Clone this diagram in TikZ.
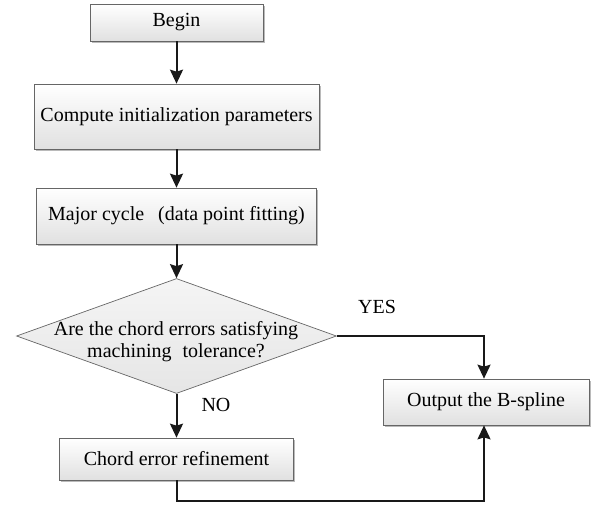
\documentclass[tikz,border=0pt]{standalone}
\usepackage{fontspec}
\setmainfont{Liberation Serif}
\usetikzlibrary{shapes.geometric,arrows.meta,shadows}

\tikzset{
  stepbox/.style={rectangle, draw=black!60, line width=0.7pt,
    top color=white, bottom color=black!12, inner sep=0pt,
    drop shadow={shadow xshift=1.6pt, shadow yshift=-1.6pt, fill=black!45, opacity=0.6}},
  decision/.style={diamond, draw=black!60, line width=0.7pt,
    top color=white!96!black, bottom color=black!10, inner sep=0pt},
  flow/.style={draw=black!90, line width=2pt,
    -{Stealth[length=14pt,width=13pt,inset=2pt]}},
  tag/.style={inner sep=0pt}
}

\begin{document}
\begin{tikzpicture}[x=1pt,y=-1pt,
  every node/.style={font=\fontsize{20}{22}\selectfont}]
\useasboundingbox (0,0) rectangle (592,504);

% process boxes
\node[stepbox, minimum width=173pt, minimum height=37pt] (begin) at (176.5,22.5) {Begin};
\node[stepbox, minimum width=285pt, minimum height=65pt] (init) at (176.5,116.5) {Compute initialization parameters};
\node[stepbox, minimum width=280pt, minimum height=56pt] (major) at (176.5,216)
  {Major cycle\hspace{0.7em}(data point fitting)\hspace{14pt}};

% decision
\node[decision, minimum width=320pt, minimum height=115pt] (check) at (176.5,336) {};
\node[tag, align=center] (question) at (176,342)
  {Are the chord errors satisfying\\machining\hspace{0.3em} tolerance?};

\node[stepbox, minimum width=206pt, minimum height=46pt] (output) at (486,402) {Output the B-spline};
\node[stepbox, minimum width=234pt, minimum height=42pt] (refine) at (176.5,459) {Chord error refinement};

% branch labels
\node[tag] (yes) at (377,307) {YES};
\node[tag] (no) at (216,405) {NO};

\coordinate (turn) at (484,501);

% connectors
\draw[flow] (begin.south) -- (init.north);
\draw[flow] (init.south) -- (major.north);
\draw[flow] (major.south) -- (check.north);
\draw[flow] (check.east) -| ([xshift=-2pt]output.north);
\draw[flow] (check.south) -- (check.south |- refine.north);
\draw[flow] (refine.south) |- (turn) -- ([xshift=-2pt]output.south);
\end{tikzpicture}
\end{document}
